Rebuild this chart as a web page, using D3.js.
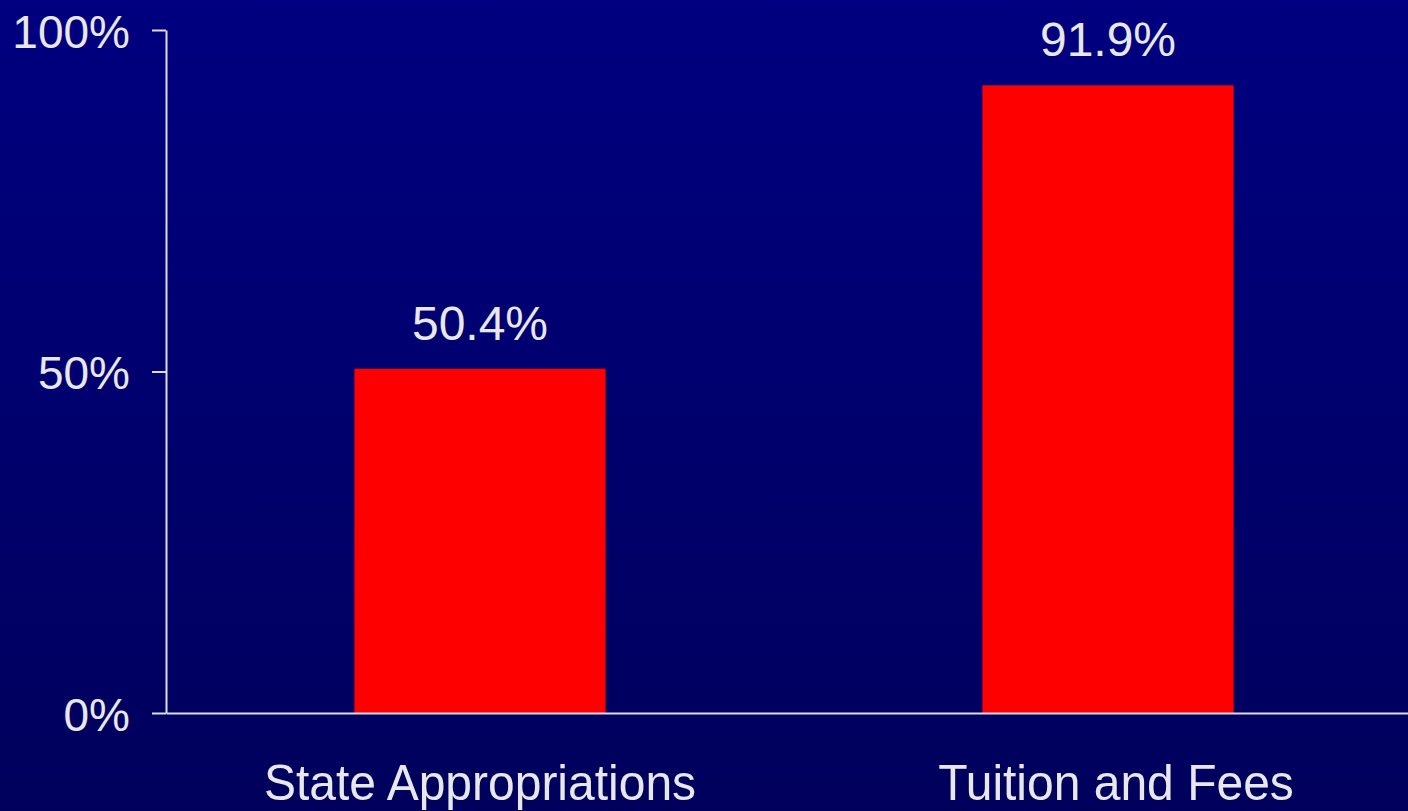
<!DOCTYPE html>
<html>
<head>
<meta charset="utf-8">
<script src="https://cdn.jsdelivr.net/npm/d3@7"></script>
<style>
  html, body { margin: 0; padding: 0; background: #000070; overflow: hidden; }
  svg { display: block; }
  text { font-family: Arial, "Liberation Sans", sans-serif; fill: #e8e8ec; }
</style>
</head>
<body>
<svg class="chart_svg"></svg>
<script>
// data
const categories = ["State Appropriations", "Tuition and Fees"];
const values = [50.4, 91.9];
const yTicks = [0, 50, 100];

let width = 1408;
let height = 811;
let margin = {top: 30, right: -14, bottom: 98, left: 166};

let svg = d3.select(".chart_svg")
    .attr("width", width)
    .attr("height", height);

// background gradient, navy fading a bit darker to the bottom
let grad = svg.append("defs").append("linearGradient")
    .attr("id", "bg")
    .attr("x1", 0).attr("y1", 0)
    .attr("x2", 0).attr("y2", 1);
grad.append("stop").attr("offset", "0%").attr("stop-color", "#000080");
grad.append("stop").attr("offset", "100%").attr("stop-color", "#00005c");

svg.append("rect")
    .attr("width", width)
    .attr("height", height)
    .attr("fill", "url(#bg)");

let xScale = d3.scaleBand()
    .domain(categories)
    .range([margin.left, width - margin.right])
    .paddingInner(0.6)
    .paddingOuter(0.3);

let yScale = d3.scaleLinear()
    .domain([0, 100])
    .range([height - margin.bottom, margin.top]);

// bars
svg.append("g")
    .selectAll("rect")
    .data(values)
    .join("rect")
    .attr("x", (d, i) => xScale(categories[i]))
    .attr("y", d => yScale(d))
    .attr("width", xScale.bandwidth())
    .attr("height", d => yScale(0) - yScale(d))
    .attr("fill", "#ff0000");

// y axis
let yAxis = svg.append("g")
    .attr("transform", `translate(${margin.left}, 0)`)
    .call(d3.axisLeft(yScale)
        .tickValues(yTicks)
        .tickFormat(d => d + "%")
        .tickSize(14)
        .tickSizeOuter(0)
        .tickPadding(22));

yAxis.select(".domain").attr("stroke", "#dcdce4").attr("stroke-width", 2);
yAxis.selectAll("line").attr("stroke", "#dcdce4").attr("stroke-width", 2);
yAxis.selectAll("text")
    .attr("font-size", 46)
    .attr("dy", "0.37em")
    .attr("fill", "#e8e8ec");

// x axis baseline
let xAxis = svg.append("g")
    .attr("transform", `translate(0, ${yScale(0)})`)
    .call(d3.axisBottom(xScale).tickSize(0).tickSizeOuter(0));

xAxis.select(".domain").attr("stroke", "#dcdce4").attr("stroke-width", 2);
xAxis.selectAll(".tick").remove();

// category labels (slightly tall glyphs in the original)
svg.append("g")
    .selectAll("text")
    .data(categories)
    .join("text")
    .attr("text-anchor", "middle")
    .attr("font-size", 48)
    .attr("transform", (d, i) => `translate(${xScale(d) + xScale.bandwidth() / 2 + i * 8}, ${yScale(0) + 87}) scale(1, 1.05)`)
    .text(d => d);

// value labels above bars
svg.append("g")
    .selectAll("text")
    .data(values)
    .join("text")
    .attr("text-anchor", "middle")
    .attr("font-size", 48)
    .attr("x", (d, i) => xScale(categories[i]) + xScale.bandwidth() / 2)
    .attr("y", d => yScale(d) - 29)
    .text(d => d.toFixed(1) + "%");
</script>
</body>
</html>
